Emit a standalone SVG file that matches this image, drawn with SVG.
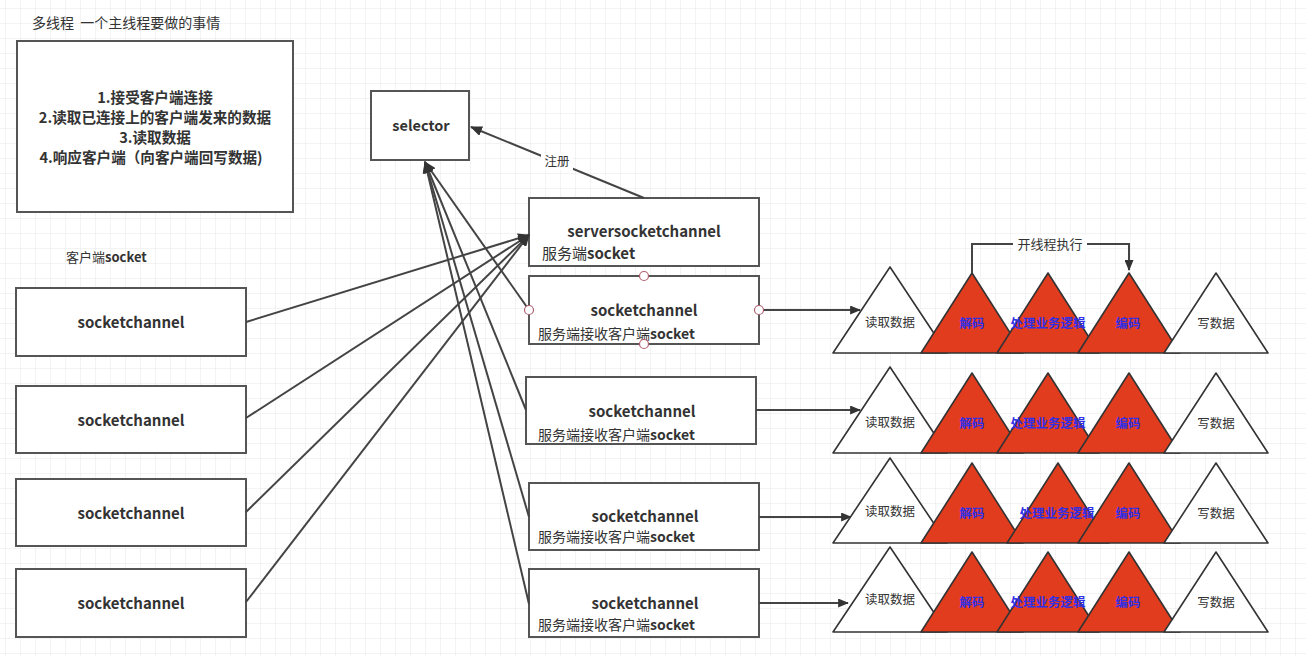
<svg xmlns="http://www.w3.org/2000/svg" width="1306" height="656" viewBox="0 0 1306 656">
<style>
  text{font-family:"Noto Sans CJK SC","Liberation Sans",sans-serif;fill:#333}
  .b{font-weight:bold}
  .box{fill:#fff;stroke:#555;stroke-width:2}
  .ln{fill:none;stroke:#444;stroke-width:2}
  .red{fill:#e23c1f;stroke:#333;stroke-width:1.6;stroke-linejoin:round}
  .wt{fill:#fff;stroke:#333;stroke-width:1.6;stroke-linejoin:round}
  .blue{fill:#2f2fe6;font-size:12.5px;font-weight:bold}
  .tri{font-size:12.5px}
  .pt{fill:#fff;stroke:#b06070;stroke-width:1.2}
  .m{text-anchor:middle}
  .task{font-size:14.6px;font-weight:bold;text-anchor:middle}
</style>
<defs>
  <pattern id="grid" x="5" y="8" width="15" height="15" patternUnits="userSpaceOnUse">
    <path d="M0 0H15M0 0V15" fill="none" stroke="#e8e8e8" stroke-width="1"/>
  </pattern>
  <marker id="ah" viewBox="0 0 12 10" refX="11" refY="5" markerWidth="12" markerHeight="10" markerUnits="userSpaceOnUse" orient="auto">
    <path d="M0 0L12 5L0 10Z" fill="#333"/>
  </marker>
  <marker id="ahs" viewBox="0 0 12 10" refX="11" refY="5" markerWidth="11" markerHeight="9" markerUnits="userSpaceOnUse" orient="auto">
    <path d="M0 0L12 5L0 10Z" fill="#333"/>
  </marker>
</defs>
<rect width="1306" height="656" fill="#fff"/>
<rect width="1306" height="656" fill="url(#grid)"/>

<text x="32" y="28" font-size="14" xml:space="preserve" style="white-space:pre">多线程  一个主线程要做的事情</text>

<g id="tasks">
  <rect class="box" x="17" y="41" width="276" height="171"/>
  <text class="task" x="155" y="103">1.接受客户端连接</text>
  <text class="task" x="155" y="123">2.读取已连接上的客户端发来的数据</text>
  <text class="task" x="155" y="143">3.读取数据</text>
  <text class="task" x="151" y="163">4.响应客户端（向客户端回写数据)</text>
</g>

<text x="66" y="262" font-size="13">客户端<tspan class="b">socket</tspan></text>

<g id="client1"><rect class="box" x="16" y="288" width="230" height="68"/><text class="b m" x="131" y="328" font-size="15">socketchannel</text></g>
<g id="client2"><rect class="box" x="16" y="386" width="230" height="67"/><text class="b m" x="131" y="426" font-size="15">socketchannel</text></g>
<g id="client3"><rect class="box" x="16" y="479" width="230" height="67"/><text class="b m" x="131" y="519" font-size="15">socketchannel</text></g>
<g id="client4"><rect class="box" x="16" y="569" width="230" height="68"/><text class="b m" x="131" y="609" font-size="15">socketchannel</text></g>

<g id="selector"><rect class="box" x="371" y="91" width="98" height="69"/><text class="b m" x="421" y="131" font-size="14.5">selector</text></g>

<g id="server"><rect class="box" x="529" y="198" width="230" height="68"/>
  <text class="b m" x="644" y="237" font-size="15">serversocketchannel</text>
  <text x="542" y="259" font-size="15">服务端<tspan class="b">socket</tspan></text></g>

<g id="sc1"><rect class="box" x="529" y="276" width="230" height="68"/>
  <text class="b m" x="644" y="316" font-size="15">socketchannel</text>
  <text x="538" y="339" font-size="14">服务端接收客户端<tspan class="b">socket</tspan></text></g>
<g id="sc2"><rect class="box" x="526" y="377" width="230" height="67"/>
  <text class="b m" x="642" y="417" font-size="15">socketchannel</text>
  <text x="538" y="440" font-size="14">服务端接收客户端<tspan class="b">socket</tspan></text></g>
<g id="sc3"><rect class="box" x="529" y="483" width="230" height="67"/>
  <text class="b m" x="645" y="522" font-size="15">socketchannel</text>
  <text x="538" y="542" font-size="14">服务端接收客户端<tspan class="b">socket</tspan></text></g>
<g id="sc4"><rect class="box" x="529" y="569" width="230" height="68"/>
  <text class="b m" x="645" y="609" font-size="15">socketchannel</text>
  <text x="538" y="630" font-size="14">服务端接收客户端<tspan class="b">socket</tspan></text></g>

<g id="connectors">
  <path class="ln" d="M644 198L471 127" marker-end="url(#ah)"/>
  <rect x="541" y="153" width="32" height="17" fill="#fff"/>
  <text class="m" x="557" y="166" font-size="12.5" fill="#555">注册</text>
  <path class="ln" d="M246 322L529 235" marker-end="url(#ah)"/>
  <path class="ln" d="M246 418L529 235" marker-end="url(#ah)"/>
  <path class="ln" d="M246 512L529 235" marker-end="url(#ah)"/>
  <path class="ln" d="M246 602L529 235" marker-end="url(#ah)"/>
  <path class="ln" d="M529 310L425 162" marker-end="url(#ah)"/>
  <path class="ln" d="M526 410L425 162" marker-end="url(#ah)"/>
  <path class="ln" d="M529 517L425 162" marker-end="url(#ah)"/>
  <path class="ln" d="M529 604L425 162" marker-end="url(#ah)"/>
  <path class="ln" d="M759 310L860 310" marker-end="url(#ahs)"/>
  <path class="ln" d="M756 410L860 410" marker-end="url(#ahs)"/>
  <path class="ln" d="M759 517L851 517" marker-end="url(#ahs)"/>
  <path class="ln" d="M759 603L848 603" marker-end="url(#ahs)"/>
</g>

<g id="points">
  <circle class="pt" cx="644" cy="276" r="4.5"/>
  <circle class="pt" cx="644" cy="344" r="4.5"/>
  <circle class="pt" cx="529" cy="310" r="4.5"/>
  <circle class="pt" cx="759" cy="310" r="4.5"/>
</g>

<g id="row1">
  <path class="wt" d="M890 267L947 353L833 353Z"/>
  <path class="red" d="M972 273L1023 353L921 353Z"/>
  <path class="red" d="M1048 273L1099 353L997 353Z"/>
  <path class="red" d="M1129 273L1180 353L1078 353Z"/>
  <path class="wt" d="M1216 273L1268 353L1164 353Z"/>
  <text class="tri m" x="890" y="327">读取数据</text>
  <text class="blue m" x="972" y="328">解码</text>
  <text class="blue m" x="1048" y="328">处理业务逻辑</text>
  <text class="blue m" x="1128" y="328">编码</text>
  <text class="tri m" x="1216" y="328">写数据</text>
  <path class="ln" d="M972 273V244H1129V270" marker-end="url(#ahs)"/>
  <rect x="1013" y="235" width="74" height="18" fill="#fff"/>
  <text class="m" x="1050" y="249" font-size="13">开线程执行</text>
</g>
<g id="row2">
  <path class="wt" d="M890 367L947 453L833 453Z"/>
  <path class="red" d="M972 373L1023 453L921 453Z"/>
  <path class="red" d="M1048 373L1099 453L997 453Z"/>
  <path class="red" d="M1129 373L1180 453L1078 453Z"/>
  <path class="wt" d="M1216 373L1268 453L1164 453Z"/>
  <text class="tri m" x="890" y="427">读取数据</text>
  <text class="blue m" x="972" y="428">解码</text>
  <text class="blue m" x="1048" y="428">处理业务逻辑</text>
  <text class="blue m" x="1128" y="428">编码</text>
  <text class="tri m" x="1216" y="428">写数据</text>
</g>
<g id="row3">
  <path class="wt" d="M890 458L947 543L833 543Z"/>
  <path class="red" d="M972 463L1023 543L921 543Z"/>
  <path class="red" d="M1058 463L1109 543L1007 543Z"/>
  <path class="red" d="M1129 463L1180 543L1078 543Z"/>
  <path class="wt" d="M1216 463L1268 543L1164 543Z"/>
  <text class="tri m" x="890" y="516">读取数据</text>
  <text class="blue m" x="972" y="518">解码</text>
  <text class="blue m" x="1057" y="518">处理业务逻辑</text>
  <text class="blue m" x="1128" y="518">编码</text>
  <text class="tri m" x="1216" y="518">写数据</text>
</g>
<g id="row4">
  <path class="wt" d="M890 547L947 632L833 632Z"/>
  <path class="red" d="M972 552L1023 632L921 632Z"/>
  <path class="red" d="M1048 552L1099 632L997 632Z"/>
  <path class="red" d="M1129 552L1180 632L1078 632Z"/>
  <path class="wt" d="M1216 552L1268 632L1164 632Z"/>
  <text class="tri m" x="890" y="604">读取数据</text>
  <text class="blue m" x="972" y="607">解码</text>
  <text class="blue m" x="1048" y="607">处理业务逻辑</text>
  <text class="blue m" x="1128" y="607">编码</text>
  <text class="tri m" x="1216" y="607">写数据</text>
</g>
</svg>
